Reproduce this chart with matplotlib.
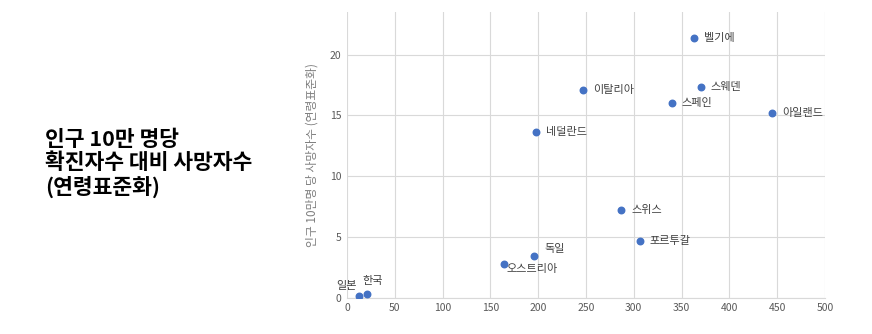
import matplotlib
matplotlib.use("Agg")
import matplotlib.pyplot as plt

plt.rcParams['font.family'] = ['Noto Sans CJK KR', 'DejaVu Sans']

countries = ["일본", "한국", "오스트리아", "독일", "네덜란드", "이탈리아",
             "스위스", "포르투갈", "스페인", "벨기에", "스웨덴", "아일랜드"]
cases = [12, 21, 164, 196, 198, 247, 287, 306, 340, 363, 370, 445]
deaths = [0.15, 0.35, 2.75, 3.45, 13.6, 17.1, 7.2, 4.65, 16.0, 21.4, 17.35, 15.2]

# label offsets in points (dx, dy, ha)
offsets = {"일본": (-9, 7, "center"), "한국": (4, 9, "center"),
           "오스트리아": (2, -3, "left"), "독일": (7, 5, "left")}

fig = plt.figure(figsize=(8.72, 3.34), dpi=100)
ax = fig.add_axes([0.398, 0.108, 0.548, 0.856])

ax.scatter(cases, deaths, s=22, color="#4472C4", zorder=3)
for name, x, y in zip(countries, cases, deaths):
    dx, dy, ha = offsets.get(name, (7, 0, "left"))
    ax.annotate(name, (x, y), xytext=(dx, dy), textcoords="offset points",
                ha=ha, va="center", fontsize=8, color="#404040")

ax.set_xlim(0, 500)
ax.set_ylim(0, 23.5)
ax.set_xticks(range(0, 501, 50))
ax.set_yticks(range(0, 21, 5))
ax.grid(True, color="#d9d9d9", linewidth=0.8)
ax.set_axisbelow(True)
for s in ["top", "right", "left"]:
    ax.spines[s].set_visible(False)
ax.spines["bottom"].set_color("#d9d9d9")
ax.tick_params(length=0, labelsize=7.5, colors="#595959", pad=4)
ax.set_ylabel("인구 10만명 당 사망자수 (연령표준화)", fontsize=8.5, color="#7f7f7f", labelpad=8)

fig.text(0.052, 0.51, "인구 10만 명당\n확진자수 대비 사망자수\n(연령표준화)",
         fontsize=15.5, fontweight="bold", ha="left", va="center", linespacing=1.15)

fig.savefig("out.png", dpi=100)
